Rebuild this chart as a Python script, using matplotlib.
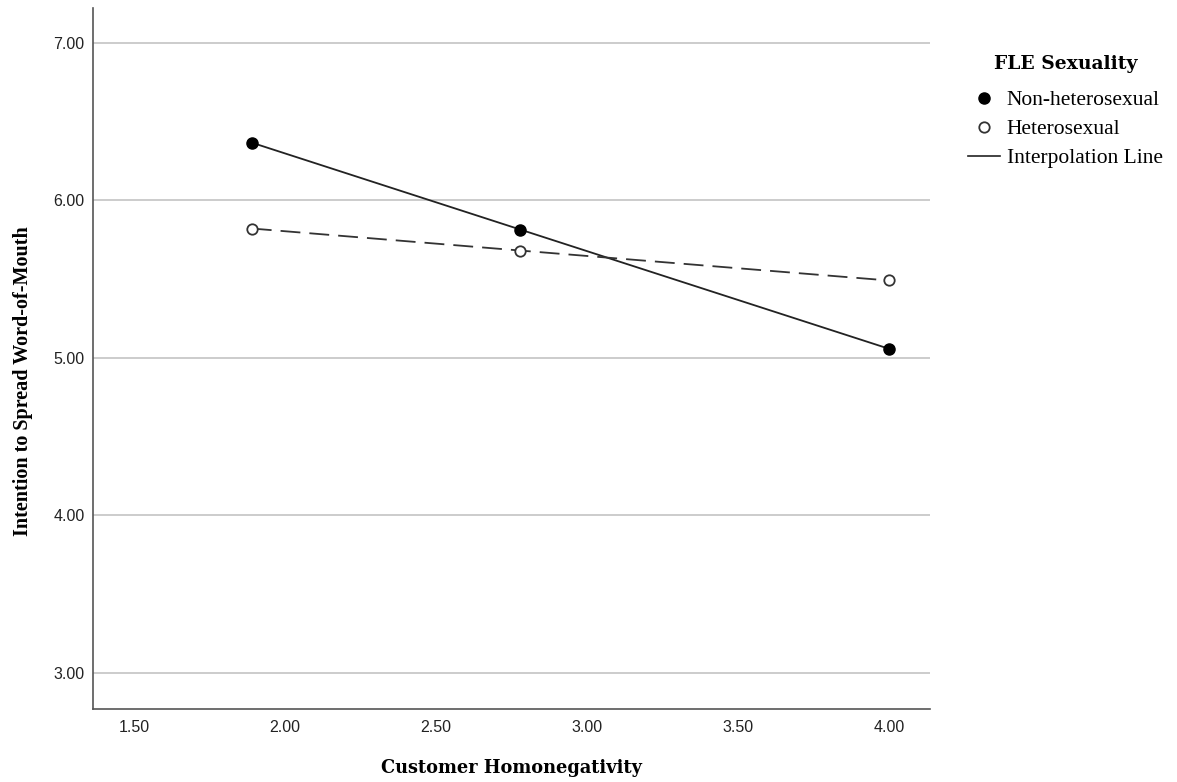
import matplotlib
matplotlib.use("Agg")
import matplotlib.pyplot as plt
from matplotlib.lines import Line2D

# values
homonegativity = [1.89, 2.78, 4.00]
non_hetero = [6.365, 5.813, 5.057]
hetero = [5.82, 5.68, 5.49]
x_ticks = [1.5, 2.0, 2.5, 3.0, 3.5, 4.0]
y_ticks = [3.0, 4.0, 5.0, 6.0, 7.0]

serif = ["Liberation Serif", "DejaVu Serif"]
wide_serif = ["DejaVu Serif"]
sans = ["Liberation Sans", "DejaVu Sans"]

fig = plt.figure(figsize=(11.77, 7.82), dpi=100)
ax = fig.add_axes([0.079, 0.0934, 0.711, 0.8964])

ax.plot(homonegativity, non_hetero, color="#222222", lw=1.3, marker="o",
        ms=8, mfc="black", mec="black", zorder=3)
ax.plot(homonegativity, hetero, color="#333333", lw=1.3, ls=(0, (11, 5)),
        marker="o", ms=7.5, mfc="white", mec="#333333", mew=1.3, zorder=3)

ax.set_xlim(1.364, 4.136)
ax.set_ylim(2.77, 7.22)
ax.set_xticks(x_ticks)
ax.set_yticks(y_ticks)
ax.set_xticklabels([f"{v:.2f}" for v in x_ticks], fontfamily=sans, fontsize=11.5)
ax.set_yticklabels([f"{v:.2f}" for v in y_ticks], fontfamily=sans, fontsize=11.5)
ax.tick_params(length=0, colors="#222222")
ax.tick_params(axis="x", pad=8)
ax.tick_params(axis="y", pad=6)

ax.grid(axis="y", color="#c4c4c4", lw=1.2)
ax.set_axisbelow(True)
for s in ["top", "right"]:
    ax.spines[s].set_visible(False)
for s in ["left", "bottom"]:
    ax.spines[s].set_color("#555555")
    ax.spines[s].set_linewidth(1.2)

ax.set_xlabel("Customer Homonegativity", fontfamily=wide_serif, fontweight="bold",
              fontsize=12.8, labelpad=17)
ax.set_ylabel("Intention to Spread Word-of-Mouth", fontfamily=serif,
              fontweight="bold", fontsize=14.5)
ax.yaxis.set_label_coords(-0.0715, 0.468)

handles = [
    Line2D([], [], ls="none", marker="o", ms=8, mfc="black", mec="black"),
    Line2D([], [], ls="none", marker="o", ms=7.5, mfc="white", mec="#333333", mew=1.3),
    Line2D([], [], color="#222222", lw=1.2),
]
leg = fig.legend(handles, ["Non-heterosexual", "Heterosexual", "Interpolation Line"],
                 loc="upper left", bbox_to_anchor=(0.806, 0.954), frameon=False,
                 prop={"family": serif, "size": 15.5}, handlelength=1.5,
                 handletextpad=0.3, labelspacing=0.42, title="FLE Sexuality",
                 title_fontproperties={"family": wide_serif, "weight": "bold", "size": 13.5})
leg._legend_box.sep = 12

fig.savefig("out.png", dpi=100)
